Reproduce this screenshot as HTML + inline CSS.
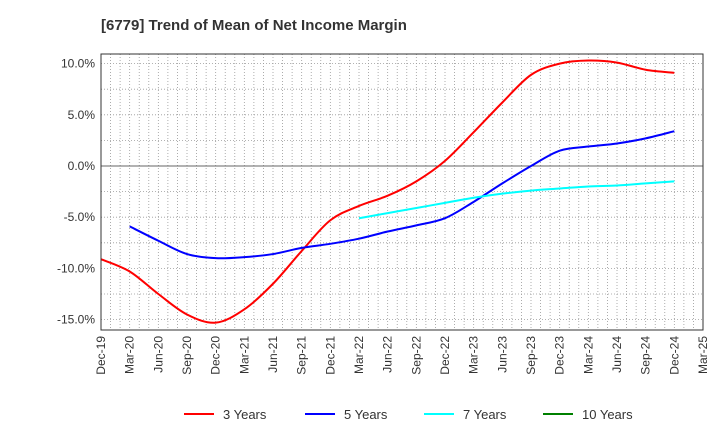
<!DOCTYPE html>
<html><head><meta charset="utf-8"><style>
body{margin:0;background:#fff;font-family:"Liberation Sans",sans-serif}
svg text{font-family:"Liberation Sans",sans-serif}
</style></head><body>
<svg id="chart" width="720" height="440" xmlns="http://www.w3.org/2000/svg">
<text x="101" y="30" font-size="15" font-weight="bold" fill="#333">[6779]  Trend of Mean of Net Income Margin</text>
<g id="grid"></g><g id="series"></g><g id="axes"></g><g id="legend"></g>
</svg>
<script>
const xLabels=["Dec-19","Mar-20","Jun-20","Sep-20","Dec-20","Mar-21","Jun-21","Sep-21","Dec-21","Mar-22","Jun-22","Sep-22","Dec-22","Mar-23","Jun-23","Sep-23","Dec-23","Mar-24","Jun-24","Sep-24","Dec-24","Mar-25"];
const yTicks=[10,5,0,-5,-10,-15];
const seriesNames=["3 Years","5 Years","7 Years","10 Years"];
const seriesColors=["#ff0000","#0000ff","#00ffff","#008000"];
const s3Start=0;
const s3=[-9.1,-10.3,-12.5,-14.5,-15.3,-14.0,-11.5,-8.3,-5.3,-3.9,-2.9,-1.5,0.5,3.3,6.2,8.9,10.0,10.3,10.1,9.4,9.1];
const s5Start=1;
const s5=[-5.9,-7.3,-8.6,-9.0,-8.9,-8.6,-8.0,-7.6,-7.1,-6.4,-5.8,-5.1,-3.5,-1.7,0.0,1.5,1.9,2.2,2.7,3.4];
const s7Start=9;
const s7=[-5.1,-4.6,-4.1,-3.6,-3.1,-2.7,-2.4,-2.2,-2.0,-1.9,-1.7,-1.5];
const s10Start=0;
const s10=[];
const NS="http://www.w3.org/2000/svg";
const L=101,R=703,T=54,B=330;
const x=i=>L+i*(R-L)/(xLabels.length-1);
const y=v=>166-v*10.24;
function mk(tag,attrs,parent){const e=document.createElementNS(NS,tag);for(const k in attrs)e.setAttribute(k,attrs[k]);parent.appendChild(e);return e;}
const grid=document.getElementById('grid'),axes=document.getElementById('axes'),ser=document.getElementById('series'),leg=document.getElementById('legend');
for(let m=0;m<=(xLabels.length-1)*3;m++){const gx=L+m*(R-L)/((xLabels.length-1)*3);
const g=mk('line',{x1:gx,x2:gx,y1:T,y2:B,stroke:'#999','stroke-width':0.8,'stroke-dasharray':'1,2'},grid);

}
for(let v=-15;v<=10;v+=2.5){const gl=mk('line',{x1:L,x2:R,y1:y(v),y2:y(v),stroke:v===0?'#666':'#999','stroke-width':v===0?1:0.8,'stroke-dasharray':v===0?'':'1,2'},grid);

}
const fr=mk('rect',{x:L,y:T,width:R-L,height:B-T,fill:'none',stroke:'#333','stroke-width':1},axes);


yTicks.forEach(v=>{const t=mk('text',{x:L-6,y:y(v)+4,'text-anchor':'end','font-size':12,fill:'#333'},axes);t.textContent=v.toFixed(1)+'%';

});
xLabels.forEach((lb,i)=>{const t=mk('text',{x:0,y:0,transform:`translate(${x(i)+4},${B+6}) rotate(-90)`,'text-anchor':'end','font-size':12,fill:'#333'},axes);t.textContent=lb;

});
function path(pts){if(pts.length<2)return '';let d=`M${pts[0][0]},${pts[0][1]}`;
for(let i=0;i<pts.length-1;i++){const p0=pts[i-1]||pts[i],p1=pts[i],p2=pts[i+1],p3=pts[i+2]||p2;
d+=` C${p1[0]+(p2[0]-p0[0])/6},${p1[1]+(p2[1]-p0[1])/6} ${p2[0]-(p3[0]-p1[0])/6},${p2[1]-(p3[1]-p1[1])/6} ${p2[0]},${p2[1]}`;}return d;}
[[s3,s3Start],[s5,s5Start],[s7,s7Start],[s10,s10Start]].forEach(([d,st],k)=>{
const pts=d.map((v,i)=>[x(st+i),y(v)]);if(pts.length<2)return;
const p=mk('path',{d:path(pts),fill:'none',stroke:seriesColors[k],'stroke-width':2},ser);

});
const lx=[184,305,424,543];
seriesNames.forEach((n,k)=>{const g=mk('g',{},leg);


mk('line',{x1:lx[k],x2:lx[k]+30,y1:414,y2:414,stroke:seriesColors[k],'stroke-width':2},g);
const t=mk('text',{x:lx[k]+39,y:419,'font-size':13,fill:'#333'},g);t.textContent=n;});
</script>
</body></html>
